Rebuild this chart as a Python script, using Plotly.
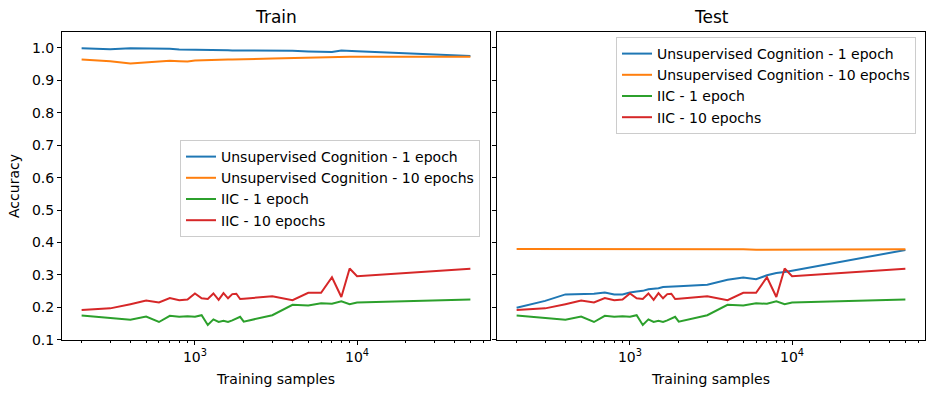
import plotly.graph_objects as go
from plotly.subplots import make_subplots

# training set sizes
samples = [200, 300, 400, 500, 600, 700, 800, 900, 1000,
           1100, 1200, 1300, 1400, 1500, 1600, 1700, 1800, 1900, 2000,
           3000, 4000, 5000, 6000, 7000, 8000, 9000, 10000, 50000]

# train accuracy
train_uc_1 = [0.999, 0.996, 0.999, 0.999, 0.998, 0.997, 0.995, 0.995, 0.994,
              0.995, 0.993, 0.995, 0.994, 0.994, 0.993, 0.992, 0.992, 0.991, 0.991,
              0.992, 0.991, 0.989, 0.988, 0.987, 0.992, 0.990, 0.990, 0.975]
train_uc_10 = [0.964, 0.959, 0.952, 0.956, 0.957, 0.960, 0.959, 0.958, 0.961,
               0.962, 0.963, 0.964, 0.963, 0.964, 0.964, 0.964, 0.965, 0.965, 0.965,
               0.967, 0.969, 0.970, 0.971, 0.972, 0.972, 0.973, 0.973, 0.973]
train_iic_1 = [0.175, 0.168, 0.162, 0.172, 0.155, 0.174, 0.171, 0.173, 0.171,
               0.176, 0.146, 0.163, 0.155, 0.159, 0.155, 0.160, 0.165, 0.171, 0.156,
               0.176, 0.208, 0.206, 0.213, 0.211, 0.219, 0.210, 0.215, 0.224]
train_iic_10 = [0.192, 0.197, 0.210, 0.221, 0.215, 0.229, 0.222, 0.224, 0.243,
                0.228, 0.226, 0.243, 0.223, 0.244, 0.228, 0.241, 0.242, 0.226, 0.227,
                0.234, 0.222, 0.245, 0.245, 0.293, 0.232, 0.320, 0.296, 0.319]

# test accuracy
test_uc_1 = [0.199, 0.220, 0.240, 0.240, 0.242, 0.246, 0.240, 0.240, 0.246,
             0.249, 0.251, 0.256, 0.257, 0.259, 0.263, 0.264, 0.263, 0.264, 0.265,
             0.270, 0.285, 0.292, 0.287, 0.299, 0.306, 0.309, 0.313, 0.377]
test_uc_10 = [0.380, 0.380, 0.380, 0.380, 0.380, 0.380, 0.380, 0.380, 0.381,
              0.381, 0.381, 0.380, 0.380, 0.380, 0.380, 0.380, 0.380, 0.380, 0.380,
              0.380, 0.380, 0.379, 0.378, 0.378, 0.379, 0.379, 0.379, 0.379]
test_iic_1 = train_iic_1
test_iic_10 = train_iic_10

names = ["Unsupervised Cognition - 1 epoch", "Unsupervised Cognition - 10 epochs",
         "IIC - 1 epoch", "IIC - 10 epochs"]
colors = ["#1f77b4", "#ff7f0e", "#2ca02c", "#d62728"]

FONT = "DejaVu Sans"
FS = 14
W, H = 932, 398
L, R, T, B = 62, 7, 32, 58
pw = W - L - R
ph = H - T - B

fig = make_subplots(rows=1, cols=2, shared_yaxes=True,
                    horizontal_spacing=(496 - 489) / pw)

panels = [
    (1, "legend", [train_uc_1, train_uc_10, train_iic_1, train_iic_10]),
    (2, "legend2", [test_uc_1, test_uc_10, test_iic_1, test_iic_10]),
]
for col, leg, series in panels:
    for name, color, ys in zip(names, colors, series):
        fig.add_trace(go.Scatter(
            x=samples, y=ys, name=name, mode="lines",
            line=dict(color=color, width=2),
            legend=leg,
        ), row=1, col=col)

minor_vals = ([v * 100 for v in range(1, 10)] + [v * 1000 for v in range(2, 10)]
              + [v * 10000 for v in range(2, 7)])

axis_common = dict(
    showline=True, linecolor="black", linewidth=1, mirror=True,
    ticks="outside", ticklen=4, tickcolor="black", tickwidth=1,
    showgrid=False, zeroline=False, automargin=False,
    tickfont=dict(family=FONT, size=FS, color="black"),
)

for col in (1, 2):
    fig.update_xaxes(
        type="log", range=[2.18, 4.82],
        tickvals=[1000, 10000], ticktext=["10<sup>3</sup>", "10<sup>4</sup>"],
        minor=dict(tickvals=minor_vals, ticks="outside", ticklen=2,
                   tickcolor="black", showgrid=False),
        title=dict(text="Training samples", standoff=10,
                   font=dict(family=FONT, size=FS, color="black")),
        row=1, col=col, **axis_common,
    )
    fig.update_yaxes(
        range=[0.0995, 1.049], dtick=0.1, tickformat=".1f",
        row=1, col=col, **axis_common,
    )

fig.update_yaxes(title=dict(text="Accuracy", standoff=9,
                            font=dict(family=FONT, size=FS, color="black")),
                 row=1, col=1)
fig.update_yaxes(showticklabels=False, row=1, col=2)

legend_style = dict(
    bgcolor="rgba(255,255,255,0.8)", bordercolor="#cccccc", borderwidth=1,
    font=dict(family=FONT, size=FS, color="black"),
    xref="paper", yref="paper", xanchor="left", yanchor="top",
    tracegroupgap=0, itemwidth=30,
)

fig.update_layout(
    width=W, height=H,
    margin=dict(l=L, r=R, t=T, b=B, autoexpand=False),
    plot_bgcolor="white", paper_bgcolor="white",
    font=dict(family=FONT, size=FS, color="black"),
    legend=dict(x=(180 - L) / pw, y=(340 - 140) / ph, **legend_style),
    legend2=dict(x=(616 - L) / pw, y=(340 - 37) / ph, **legend_style),
    showlegend=True,
)

# panel titles
fig.layout.annotations = []
dom1 = fig.layout.xaxis.domain
dom2 = fig.layout.xaxis2.domain
for text, dom in (("Train", dom1), ("Test", dom2)):
    fig.add_annotation(
        text=text, x=(dom[0] + dom[1]) / 2, y=1, xref="paper", yref="paper",
        xanchor="center", yanchor="bottom", yshift=3, showarrow=False,
        font=dict(family=FONT, size=17, color="black"),
    )

# drop the default page margin so the figure sits at the window's corner
fig.write_html("out.html", config={"displayModeBar": False},
               post_script="document.body.style.margin='0';")
